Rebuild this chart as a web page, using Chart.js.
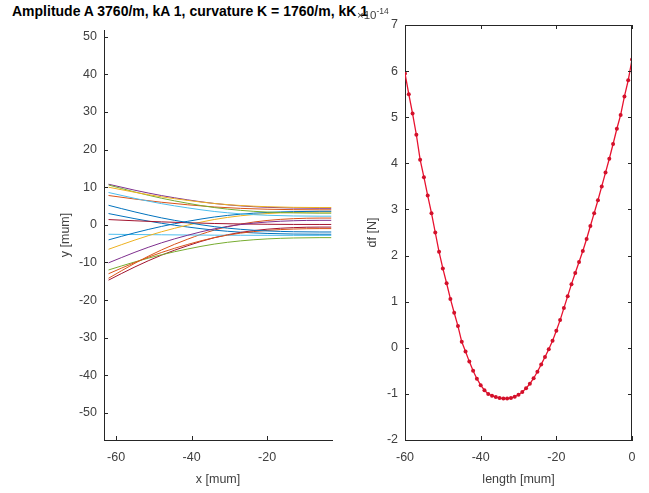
<!DOCTYPE html>
<html>
<head>
<meta charset="utf-8">
<script src="https://cdn.jsdelivr.net/npm/chart.js@4/dist/chart.umd.min.js"></script>
<style>
  body { margin: 0; background: #fff; width: 649px; height: 493px; position: relative; overflow: hidden; font-family: "Liberation Sans", Arial, sans-serif; }
  #title { position: absolute; left: 12px; top: 3px; font-weight: bold; font-size: 14px; color: #000; white-space: nowrap; }
  #expo { position: absolute; left: 357px; top: 6px; font-size: 11.5px; color: #404040; white-space: nowrap; }
  #expo sup { font-size: 8.5px; }
  #left { position: absolute; left: 0; top: 0; }
  #right { position: absolute; left: 345px; top: 0; }
</style>
</head>
<body>
<div id="title">Amplitude A 3760/m, kA 1, curvature K = 1760/m, kK 1</div>
<canvas id="left" width="345" height="493"></canvas>
<canvas id="right" width="304" height="493"></canvas>
<div id="expo">&times;10<sup>-14</sup></div>
<script>
//~==== left panel: curve shapes ====~//
const xLeft = [-62, -55, -48, -41, -34, -27, -20, -13, -6, -3];
const c01 = [5.2, 3.43, 1.86, 0.59, -0.48, -1.19, -1.62, -1.83, -1.9, -1.9];
const c02 = [-13, -10.0, -7.36, -5.2, -3.4, -2.2, -1.48, -1.12, -1.0, -1.0];
const c03 = [10, 8.65, 7.46, 6.49, 5.68, 5.14, 4.82, 4.65, 4.6, 4.6];
const c04 = [-10.1, -7.28, -4.79, -2.76, -1.06, 0.07, 0.75, 1.09, 1.2, 1.2];
const c05 = [10.6, 8.73, 7.08, 5.73, 4.6, 3.85, 3.4, 3.18, 3.1, 3.1];
const c06 = [8.6, 7.03, 5.64, 4.51, 3.56, 2.93, 2.55, 2.36, 2.3, 2.3];
const c07 = [1.4, 1.08, 0.79, 0.56, 0.36, 0.23, 0.15, 0.11, 0.1, 0.1];
const c08 = [-4.0, -2.1, -0.43, 0.94, 2.08, 2.84, 3.3, 3.52, 3.6, 3.6];
const c09 = [7.8, 6.85, 6.01, 5.33, 4.76, 4.38, 4.15, 4.04, 4.0, 4.0];
const c10 = [-6.5, -4.03, -1.85, -0.07, 1.42, 2.41, 3.0, 3.3, 3.4, 3.4];
const c11 = [10.8, 9.2, 7.79, 6.64, 5.68, 5.04, 4.66, 4.46, 4.4, 4.4];
const c12 = [-12.0, -9.85, -7.96, -6.41, -5.12, -4.26, -3.74, -3.49, -3.4, -3.4];
const c13 = [-2.5, -2.58, -2.64, -2.7, -2.74, -2.77, -2.79, -2.8, -2.8, -2.8];
const c14 = [-14.7, -11.18, -8.07, -5.54, -3.42, -2.01, -1.16, -0.74, -0.6, -0.6];
const c15 = [3.0, 1.63, 0.42, -0.58, -1.4, -1.95, -2.28, -2.45, -2.5, -2.5];
const c16 = [-14.2, -10.2, -6.68, -3.8, -1.4, 0.2, 1.16, 1.64, 1.8, 1.8];
const curves = [c01, c02, c03, c04, c05, c06, c07, c08, c09, c10, c11, c12, c13, c14, c15, c16];
const matlabColors = ["#0072BD", "#D95319", "#EDB120", "#7E2F8E", "#77AC30", "#4DBEEE", "#A2142F"];
const leftYTicks = [-50, -40, -30, -20, -10, 0, 10, 20, 30, 40, 50];
const leftXTicks = [-60, -40, -20];

//~==== right panel: df over length ====~//
const lengthX = [-60, -59, -58, -57, -56, -55, -54, -53, -52, -51, -50, -49, -48, -47, -46, -45, -44, -43, -42, -41,
  -40, -39, -38, -37, -36, -35, -34, -33, -32, -31, -30, -29, -28, -27, -26, -25, -24, -23, -22, -21,
  -20, -19, -18, -17, -16, -15, -14, -13, -12, -11, -10, -9, -8, -7, -6, -5, -4, -3, -2, -1, 0];
const dfY = [5.95, 5.5, 5.08, 4.62, 4.08, 3.7, 3.3, 2.92, 2.5, 2.08, 1.72, 1.4, 1.06, 0.76, 0.47, 0.13, -0.08, -0.3, -0.5, -0.67,
  -0.81, -0.92, -1.0, -1.04, -1.07, -1.09, -1.1, -1.1, -1.09, -1.06, -1.02, -0.96, -0.88, -0.78, -0.66, -0.52, -0.36, -0.2, -0.03, 0.15,
  0.37, 0.6, 0.86, 1.12, 1.38, 1.62, 1.86, 2.1, 2.36, 2.64, 2.92, 3.2, 3.5, 3.8, 4.1, 4.42, 4.75, 5.05, 5.45, 5.8, 6.25];
const rightYTicks = [-2, -1, 0, 1, 2, 3, 4, 5, 6, 7];
const rightXTicks = [-60, -40, -20, 0];

const axisColor = "#262626";
const textColor = "#404040";
const font = { family: "'Liberation Sans', Arial, sans-serif", size: 12.5 };

// inward tick marks like matlab, plus optional box
function tickPlugin(box) {
  return {
    id: "matTicks",
    afterDraw(chart) {
      const c = chart.ctx;
      const a = chart.chartArea;
      const xs = chart.scales.x, ys = chart.scales.y;
      const len = 4;
      c.save();
      c.strokeStyle = axisColor;
      c.lineWidth = 1;
      c.beginPath();
      xs.ticks.forEach((t) => {
        const px = Math.round(xs.getPixelForValue(t.value)) + 0.5;
        c.moveTo(px, a.bottom); c.lineTo(px, a.bottom - len);
        if (box) { c.moveTo(px, a.top); c.lineTo(px, a.top + len); }
      });
      ys.ticks.forEach((t) => {
        const py = Math.round(ys.getPixelForValue(t.value)) + 0.5;
        c.moveTo(a.left, py); c.lineTo(a.left + len, py);
        if (box) { c.moveTo(a.right, py); c.lineTo(a.right - len, py); }
      });
      if (box) {
        c.moveTo(a.left, a.top + 0.5); c.lineTo(a.right, a.top + 0.5);
        c.moveTo(a.right - 0.5, a.top); c.lineTo(a.right - 0.5, a.bottom);
      }
      c.stroke();
      c.restore();
    }
  };
}

function axes(xmin, xmax, xt, ymin, ymax, yt, xTitle, yTitle, yWidth) {
  return {
    x: {
      type: "linear", min: xmin, max: xmax,
      afterBuildTicks: (s) => { s.ticks = xt.map((v) => ({ value: v })); },
      afterFit: (s) => { s.height = 49; },
      grid: { display: false, drawTicks: false },
      border: { display: true, color: axisColor, width: 1 },
      ticks: { color: textColor, font: font, padding: 10, maxRotation: 0, autoSkip: false },
      title: { display: true, text: xTitle, color: textColor, font: font, padding: { top: 0, bottom: 2 } }
    },
    y: {
      type: "linear", min: ymin, max: ymax,
      afterBuildTicks: (s) => { s.ticks = yt.map((v) => ({ value: v })); },
      afterFit: (s) => { s.width = yWidth; },
      grid: { display: false, drawTicks: false },
      border: { display: true, color: axisColor, width: 1 },
      ticks: { color: textColor, font: font, padding: 7, autoSkip: false },
      title: { display: true, text: yTitle, color: textColor, font: font, padding: { top: 0, bottom: 0 } }
    }
  };
}

const leftSets = curves.map((c, i) => ({
  data: c.map((v, j) => ({ x: xLeft[j], y: v })),
  borderColor: matlabColors[i % matlabColors.length],
  borderWidth: 1,
  pointRadius: 0,
  cubicInterpolationMode: "monotone",
  fill: false
}));

new Chart(document.getElementById("left"), {
  type: "line",
  data: { datasets: leftSets },
  options: {
    responsive: false, animation: false,
    layout: { padding: { left: 58, right: 13, top: 30, bottom: 4 } },
    plugins: { legend: { display: false }, tooltip: { enabled: false } },
    scales: axes(-63.2, -2.8, leftXTicks, -57.2, 51.8, leftYTicks, "x [mum]", "y [mum]", 46)
  },
  plugins: [tickPlugin(false)]
});

new Chart(document.getElementById("right"), {
  type: "line",
  data: {
    datasets: [{
      data: lengthX.map((x, i) => ({ x: x, y: dfY[i] })),
      borderColor: "#e8122f",
      backgroundColor: "#d3102a",
      borderWidth: 1.3,
      pointRadius: 2,
      pointBorderWidth: 0,
      tension: 0,
      fill: false
    }]
  },
  options: {
    responsive: false, animation: false,
    layout: { padding: { left: 20, right: 17, top: 25, bottom: 4 } },
    plugins: { legend: { display: false }, tooltip: { enabled: false } },
    scales: axes(-60, 0, rightXTicks, -2, 7, rightYTicks, "length [mum]", "df [N]", 40)
  },
  plugins: [tickPlugin(true)]
});
</script>
</body>
</html>
